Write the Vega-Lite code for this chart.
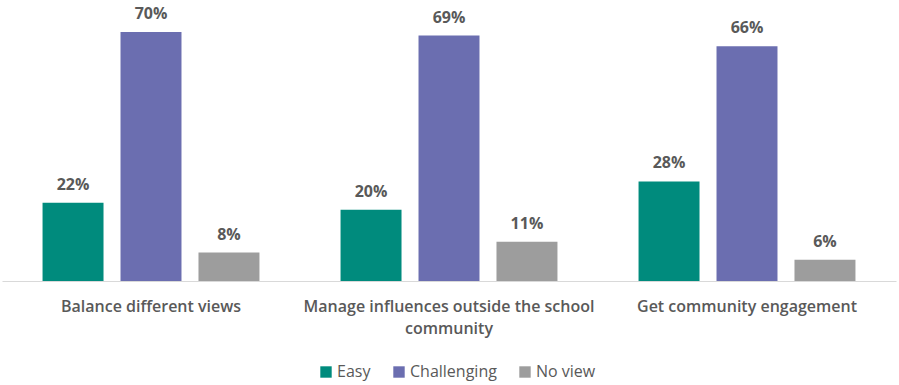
{
  "$schema": "https://vega.github.io/schema/vega-lite/v6.json",
  "width": 894,
  "height": 281,
  "padding": {"left": 2, "top": 0, "right": 3, "bottom": 6},
  "background": "white",
  "config": {"view": {"stroke": null}, "font": "Open Sans"},
  "data": {
    "values": [
      {"task": "Balance different views", "response": "Easy", "pct": 0.22},
      {"task": "Balance different views", "response": "Challenging", "pct": 0.70},
      {"task": "Balance different views", "response": "No view", "pct": 0.08},
      {"task": "Manage influences outside the school community", "response": "Easy", "pct": 0.20},
      {"task": "Manage influences outside the school community", "response": "Challenging", "pct": 0.69},
      {"task": "Manage influences outside the school community", "response": "No view", "pct": 0.11},
      {"task": "Get community engagement", "response": "Easy", "pct": 0.28},
      {"task": "Get community engagement", "response": "Challenging", "pct": 0.66},
      {"task": "Get community engagement", "response": "No view", "pct": 0.06}
    ]
  },
  "encoding": {
    "x": {
      "field": "task",
      "type": "nominal",
      "sort": null,
      "scale": {"paddingInner": 0, "paddingOuter": 0},
      "axis": {
        "title": null,
        "labelAngle": 0,
        "ticks": false,
        "domainColor": "#d9d9d9",
        "labelColor": "#595959",
        "labelFontSize": 16,
        "labelFontWeight": 600,
        "labelPadding": 17,
        "labelBaseline": "top",
        "labelLineHeight": 22,
        "labelLimit": 400,
        "labelExpr": "datum.label == 'Manage influences outside the school community' ? ['Manage influences outside the school', 'community'] : datum.label"
      }
    },
    "xOffset": {
      "field": "response",
      "type": "nominal",
      "sort": ["Easy", "Challenging", "No view"],
      "scale": {"paddingInner": 0.218, "paddingOuter": 0.52}
    },
    "y": {
      "field": "pct",
      "type": "quantitative",
      "scale": {"domain": [0, 0.79]},
      "axis": null
    }
  },
  "layer": [
    {
      "mark": {"type": "bar"},
      "encoding": {
        "color": {
          "field": "response",
          "type": "nominal",
          "sort": ["Easy", "Challenging", "No view"],
          "scale": {"domain": ["Easy", "Challenging", "No view"], "range": ["#008b7d", "#6b6eb0", "#9d9d9d"]},
          "legend": {
            "title": null,
            "orient": "none",
            "legendX": 316,
            "legendY": 364,
            "direction": "horizontal",
            "symbolType": "square",
            "symbolSize": 130,
            "symbolStrokeWidth": 0,
            "labelFontSize": 16,
            "labelColor": "#595959",
            "columnPadding": 20,
            "labelOffset": 3
          }
        }
      }
    },
    {
      "mark": {"type": "text", "dy": -13, "fontSize": 16, "fontWeight": "bold", "color": "#595959", "baseline": "alphabetic"},
      "encoding": {
        "text": {"field": "pct", "type": "quantitative", "format": ".0%"},
        "detail": {"field": "response"}
      }
    }
  ]
}
